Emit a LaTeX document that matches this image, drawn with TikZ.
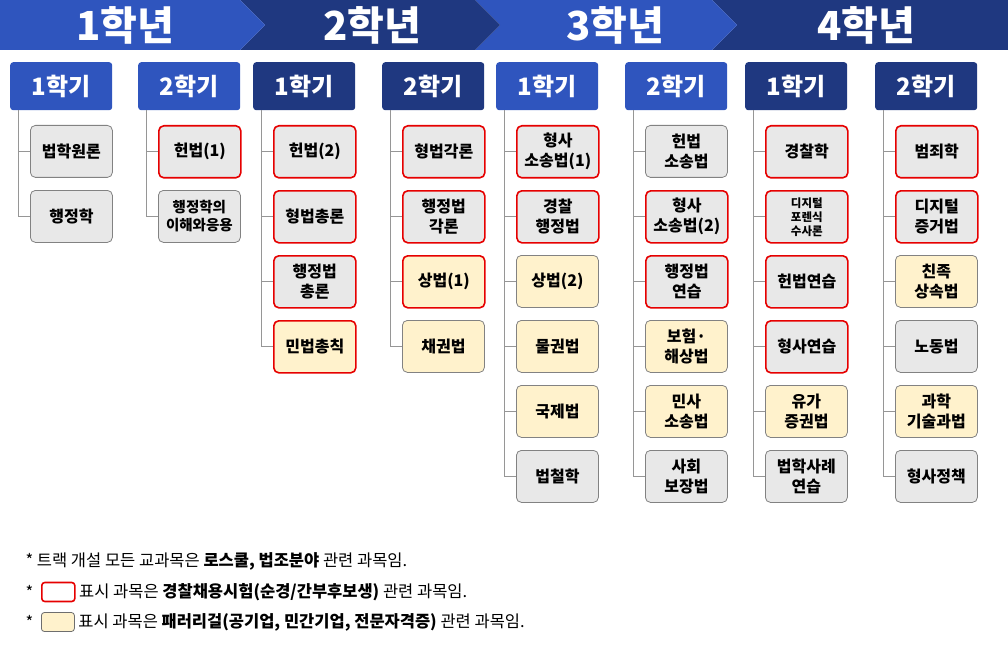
\documentclass[tikz,border=0pt]{standalone}
\usepackage{fontspec}
\usetikzlibrary{calc}
\setmainfont{Noto Sans CJK KR}
\begin{document}
\begin{tikzpicture}[x=1pt,y=-1pt,
  lb/.style={fill={rgb,255:red,47;green,85;blue,190}},
  db/.style={fill={rgb,255:red,31;green,56;blue,128}},
  sem/.style={rounded corners=3pt,minimum width=102pt,minimum height=48pt,anchor=north west,text=white,font=\fontsize{24}{26}\selectfont\bfseries},
  crs/.style={rounded corners=5pt,minimum width=82pt,minimum height=52pt,anchor=north west,align=center,font=\fontsize{16}{20}\selectfont\bfseries,draw={rgb,255:red,130;green,130;blue,130},line width=0.8pt,fill={rgb,255:red,232;green,232;blue,232}},
  rd/.style={draw={rgb,255:red,230;green,0;blue,0},line width=1.6pt},
  yl/.style={fill={rgb,255:red,255;green,242;blue,204}},
  lg/.style={anchor=west,font=\fontsize{16.5}{18}\selectfont},
  ln/.style={draw={rgb,255:red,150;green,150;blue,150},line width=1pt}]
\useasboundingbox (0,0) rectangle (1008,655);
% header chevrons
\fill[db] (712,0) -- (1008,0) -- (1008,50) -- (712,50) -- (737,25) -- cycle;
\fill[lb] (475,0) -- (712,0) -- (737,25) -- (712,50) -- (475,50) -- (500,25) -- cycle;
\fill[db] (240,0) -- (475,0) -- (500,25) -- (475,50) -- (240,50) -- (265,25) -- cycle;
\fill[lb] (0,0) -- (240,0) -- (265,25) -- (240,50) -- (0,50) -- cycle;
\foreach \t/\x in {1/125,2/372,3/615,4/866}
  \node[text=white,font=\fontsize{40}{42}\selectfont\bfseries] (y\t) at (\x,25) {{\t}학년};
% columns
\def\col#1#2#3#4{%
  \node[sem,#3] (s#1) at (#2,62) {#4};}
\col{1}{10}{lb}{1학기}
\col{2}{138}{lb}{2학기}
\col{3}{253}{db}{1학기}
\col{4}{382}{db}{2학기}
\col{5}{496}{lb}{1학기}
\col{6}{625}{lb}{2학기}
\col{7}{745}{db}{1학기}
\col{8}{875}{db}{2학기}
\newcommand\crsbox[5]{% col, row, xleft, style, text
  \pgfmathsetmacro\yy{125+65*(#2-1)}
  \node[crs,#4] (c#1#2) at (#3,\yy) {#5};
  \draw[ln] ($(s#1.south west)+(8,0)$) |- (c#1#2.west);}
\crsbox{1}{1}{30}{}{법학원론}
\crsbox{1}{2}{30}{}{행정학}
\crsbox{2}{1}{158}{rd}{헌법(1)}
\crsbox{2}{2}{158}{font=\fontsize{14.5}{18}\selectfont\bfseries}{행정학의\\이해와응용}
\crsbox{3}{1}{273}{rd}{헌법(2)}
\crsbox{3}{2}{273}{rd}{형법총론}
\crsbox{3}{3}{273}{rd}{행정법\\총론}
\crsbox{3}{4}{273}{rd,yl}{민법총칙}
\crsbox{4}{1}{402}{rd}{형법각론}
\crsbox{4}{2}{402}{rd}{행정법\\각론}
\crsbox{4}{3}{402}{rd,yl}{상법(1)}
\crsbox{4}{4}{402}{yl}{채권법}
\crsbox{5}{1}{516}{rd}{형사\\소송법(1)}
\crsbox{5}{2}{516}{rd}{경찰\\행정법}
\crsbox{5}{3}{516}{yl}{상법(2)}
\crsbox{5}{4}{516}{yl}{물권법}
\crsbox{5}{5}{516}{yl}{국제법}
\crsbox{5}{6}{516}{}{법철학}
\crsbox{6}{1}{645}{}{헌법\\소송법}
\crsbox{6}{2}{645}{rd}{형사\\소송법(2)}
\crsbox{6}{3}{645}{rd}{행정법\\연습}
\crsbox{6}{4}{645}{yl}{보험·\\해상법}
\crsbox{6}{5}{645}{yl}{민사\\소송법}
\crsbox{6}{6}{645}{}{사회\\보장법}
\crsbox{7}{1}{765}{rd}{경찰학}
\crsbox{7}{2}{765}{rd,font=\fontsize{11.5}{14}\selectfont\bfseries}{디지털\\포렌식\\수사론}
\crsbox{7}{3}{765}{rd}{헌법연습}
\crsbox{7}{4}{765}{rd}{형사연습}
\crsbox{7}{5}{765}{yl}{유가\\증권법}
\crsbox{7}{6}{765}{}{법학사례\\연습}
\crsbox{8}{1}{895}{rd}{범죄학}
\crsbox{8}{2}{895}{rd}{디지털\\증거법}
\crsbox{8}{3}{895}{yl}{친족\\상속법}
\crsbox{8}{4}{895}{}{노동법}
\crsbox{8}{5}{895}{yl}{과학\\기술과법}
\crsbox{8}{6}{895}{}{형사정책}
% legend
\node[lg] (l1) at (22,561) {* 트랙 개설 모든 교과목은 \textbf{로스쿨, 법조분야} 관련 과목임.};
\node[lg] (a2) at (22,592) {*};
\node[rounded corners=3pt,rd,minimum width=33pt,minimum height=19pt,anchor=west] (k2) at (41,592) {};
\node[lg] (l2) at (k2.east) {표시 과목은 \textbf{경찰채용시험(순경/간부후보생)} 관련 과목임.};
\node[lg] (a3) at (22,622) {*};
\node[rounded corners=3pt,yl,draw={rgb,255:red,110;green,110;blue,110},line width=0.8pt,minimum width=33pt,minimum height=19pt,anchor=west] (k3) at (41,622) {};
\node[lg] (l3) at (k3.east) {표시 과목은 \textbf{패러리걸(공기업, 민간기업, 전문자격증)} 관련 과목임.};
\end{tikzpicture}
\end{document}
